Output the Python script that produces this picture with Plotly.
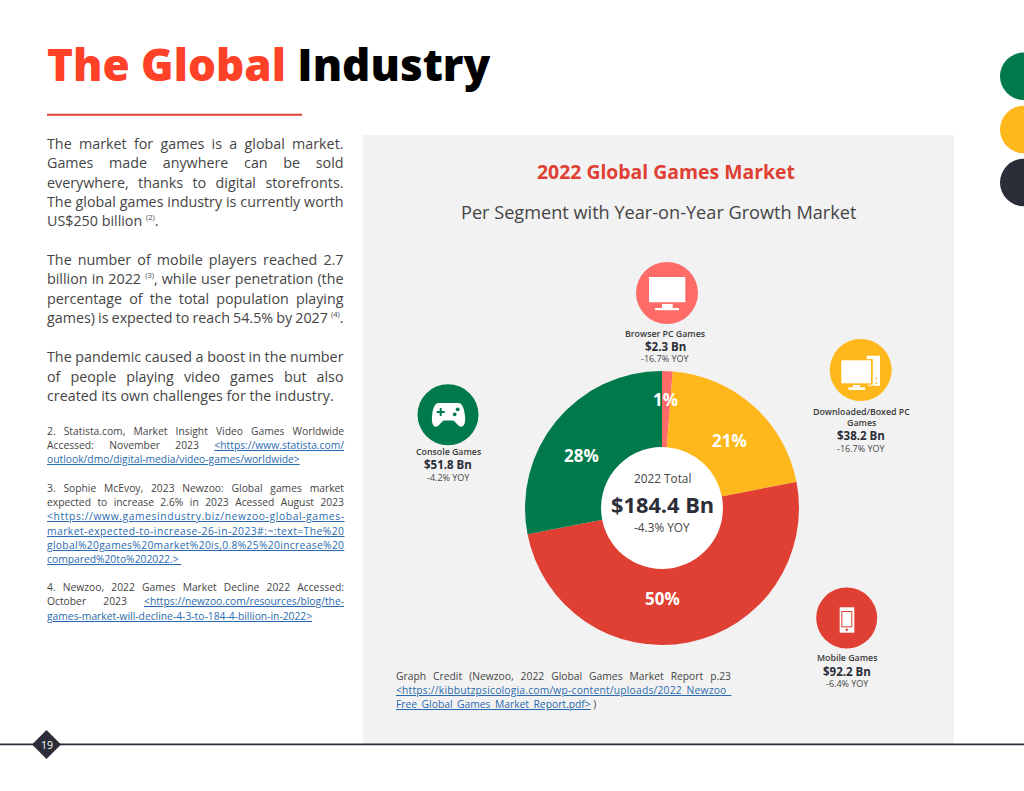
import json
import re
import plotly.graph_objects as go

# ---------- data ----------
segments = ["Browser PC Games", "Downloaded/Boxed PC Games", "Mobile Games", "Console Games"]
values = [2.3, 38.2, 92.2, 51.8]
revenue_labels = ["$2.3 Bn", "$38.2 Bn", "$92.2 Bn", "$51.8 Bn"]
yoy_labels = ["-16.7% YOY", "-16.7% YOY", "-6.4% YOY", "-4.2% YOY"]
total_labels = ["2022 Total", "$184.4 Bn", "-4.3% YOY"]

chart_title = "2022 Global Games Market"
chart_subtitle = "Per Segment with Year-on-Year Growth Market"


def note(n):
    return f'<sup><span style="font-size:7.5px">({n})</span></sup>'


body_lines = [
    ("The market for games is a global market.", 144, True),
    ("Games made anywhere can be sold", 163, True),
    ("everywhere, thanks to digital storefronts.", 183, True),
    ("The global games industry is currently worth", 202, True),
    (f"US$250 billion {note(2)}.", 221, False),
    ("The number of mobile players reached 2.7", 260, True),
    (f"billion in 2022 {note(3)}, while user penetration (the", 279, True),
    ("percentage of the total population playing", 299, True),
    (f"games) is expected to reach 54.5% by 2027 {note(4)}.", 318, True),
    ("The pandemic caused a boost in the number", 357, True),
    ("of people playing video games but also", 377, True),
    ("created its own challenges for the industry.", 396, False),
]

L0, L1 = '<span style="color:#2a6ab0;text-decoration:underline">', "</span>"
ref_lines = [
    ("2. Statista.com, Market Insight Video Games Worldwide", 431, True),
    (f"Accessed: November 2023 {L0}&lt;https://www.statista.com/{L1}", 445, True),
    (f"{L0}outlook/dmo/digital-media/video-games/worldwide&gt;{L1}", 459, False),
    ("3. Sophie McEvoy, 2023 Newzoo: Global games market", 488, True),
    ("expected to increase 2.6% in 2023 Acessed August 2023", 502, True),
    (f"{L0}&lt;https://www.gamesindustry.biz/newzoo-global-games-{L1}", 516, True),
    (f"{L0}market-expected-to-increase-26-in-2023#:~:text=The%20{L1}", 531, True),
    (f"{L0}global%20games%20market%20is,0.8%25%20increase%20{L1}", 545, True),
    (f"{L0}compared%20to%202022.&gt; {L1}", 559, False),
    ("4. Newzoo, 2022 Games Market Decline 2022 Accessed:", 587, True),
    (f"October 2023 {L0}&lt;https://newzoo.com/resources/blog/the-{L1}", 601, True),
    (f"{L0}games-market-will-decline-4-3-to-184-4-billion-in-2022&gt;{L1}", 616, False),
]
credit_lines = [
    ("Graph Credit (Newzoo, 2022 Global Games Market Report p.23", 676, True),
    (f"{L0}&lt;https://kibbutzpsicologia.com/wp-content/uploads/2022_Newzoo_{L1}", 690, True),
    (f"{L0}Free_Global_Games_Market_Report.pdf&gt;{L1} )", 704, False),
]

# ---------- styles ----------
RED, GREEN, YELLOW, PINK, DARK = "#e03f33", "#007a4b", "#ffb81c", "#ff6b66", "#2b2e38"
TITLE_RED, PANEL, TEXT = "#ff4128", "#f2f2f2", "#454545"
FONT = "Open Sans"
W, H = 1024, 791


def X(x):
    return x / W


def Y(y):
    return 1 - y / H


def path(d, fill="#ffffff"):
    toks = re.findall(r"-?\d+\.?\d*|[A-Za-z]", d)
    res, i = "", 0
    while i < len(toks):
        t = toks[i]
        if t.isalpha():
            res += t
            i += 1
        else:
            res += f"{X(float(t)):.6f},{Y(float(toks[i + 1])):.6f} "
            i += 2
    return dict(type="path", path=res, xref="paper", yref="paper", fillcolor=fill, line_width=0, layer="above")


def rect(x0, y0, x1, y1, fill, layer="above"):
    return dict(type="rect", xref="paper", yref="paper", x0=X(x0), x1=X(x1), y0=Y(y0), y1=Y(y1),
                fillcolor=fill, line_width=0, layer=layer)


def circle(cx, cy, r, fill, layer="above"):
    return dict(type="circle", xref="paper", yref="paper", x0=X(cx - r), x1=X(cx + r), y0=Y(cy + r), y1=Y(cy - r),
                fillcolor=fill, line_width=0, layer=layer)


shapes = [
    rect(363, 135, 954, 744, PANEL, "below"),
    circle(662, 508, 61, "#ffffff", "below"),
    rect(47, 113.8, 302, 115.8, RED),
    circle(1023.7, 76.3, 23.7, GREEN),
    circle(1023.7, 129.5, 23.7, YELLOW),
    circle(1023.7, 182.5, 23.7, DARK),
    rect(0, 743.6, 1024, 745.2, DARK),
    path("M46.5,730 L61,744.5 L46.5,759 L32,744.5 Z", DARK),
    # browser icon
    circle(667, 293, 31, PINK),
    rect(649, 277, 685.3, 302.3, "#ffffff"),
    rect(662, 304, 672.7, 308, "#ffffff"),
    rect(655, 308, 679, 310.2, "#ffffff"),
    # downloaded icon
    circle(860.7, 370, 31, YELLOW),
    path("M866.7,355.7 L880,355.7 L880,385.7 L868,385.7 L868,384.8 L872.8,384.8 L872.8,359 L866.7,359 Z"),
    circle(876.3, 378.3, 0.9, YELLOW),
    circle(876.3, 383, 0.9, YELLOW),
    rect(841.3, 360.3, 871, 383.3, "#ffffff"),
    rect(853, 385, 860, 387.3, "#ffffff"),
    rect(848.5, 387.3, 865, 390, "#ffffff"),
    # console icon
    circle(448, 414.7, 30.5, GREEN),
    path("M439,403 L458,403 C462,403 464,407 465,416 C465.8,423 464,426.7 461,426.7 "
         "C458,426.7 456,421.5 453,420.5 L444,420.5 C441,421.5 439,426.7 436,426.7 "
         "C433,426.7 431.5,423 432,416 C433,407 435,403 439,403 Z"),
    rect(436.7, 411, 444.7, 413, GREEN),
    rect(439.7, 408, 441.7, 416, GREEN),
    circle(457.7, 409.3, 1.9, GREEN),
    circle(454.7, 414.3, 1.9, GREEN),
    # mobile icon
    circle(846.7, 618, 30.5, RED),
    rect(839.7, 607.3, 854.3, 632.7, "#ffffff"),
    rect(841.3, 611, 852.3, 627.3, RED),
    rect(842.3, 612, 851.3, 626.3, "#ffffff"),
    circle(846.7, 629.7, 1.2, RED),
]

annotations = []
justify = {}


def text(x, y, s, size, color=TEXT, anchor="center", weight=None, just_width=None):
    font = dict(family=FONT, size=size, color=color)
    if weight:
        font["weight"] = weight
    if just_width:
        justify[len(annotations)] = just_width
    annotations.append(dict(x=X(x), y=Y(y), xref="paper", yref="paper", text=s, showarrow=False,
                            xanchor=anchor, yanchor="middle", align="left" if anchor == "left" else "center",
                            borderpad=0, borderwidth=0, font=font))


text(47, 64, f'<span style="color:{TITLE_RED}">The Global</span> <span style="color:#000000">Industry</span>',
     44, anchor="left", weight=800)

for s, y, j in body_lines:
    text(47, y - 0.7, s, 14.3, anchor="left", just_width=296.5 if j else None)
for s, y, j in ref_lines:
    text(47, y, s, 10.3, anchor="left", just_width=297 if j else None)
for s, y, j in credit_lines:
    text(396, y, s, 10.3, anchor="left", just_width=335 if j else None)

text(666, 172, f"<b>{chart_title}</b>", 19.4, RED)
text(658.5, 212.5, chart_subtitle, 18.15)

text(662, 478, total_labels[0], 11.8)
text(662, 504.5, f"<b>{total_labels[1]}</b>", 21.8, DARK)
text(662, 527, total_labels[2], 11.8)

label_pos = {
    0: (665, [334], 346.5, 358),
    1: (861, [412, 423], 436, 448),
    2: (847, [658], 671, 683),
    3: (448, [452], 465, 477),
}
name_lines = {0: [segments[0]], 1: ["Downloaded/Boxed PC", "Games"], 2: [segments[2]], 3: [segments[3]]}
for i, (cx, ys, yv, yy) in label_pos.items():
    for nm, yn in zip(name_lines[i], ys):
        text(cx, yn, nm, 8.8, "#3a3a3a", weight=600)
    text(cx, yv, f"<b>{revenue_labels[i]}</b>", 11.5, DARK)
    text(cx, yy, yoy_labels[i], 9)

text(46.5, 744.5, "19", 10.5, "#ffffff")

# percent labels read from the values
total = sum(values)
pct_pos = [(665, 400), (729, 440), (662, 598), (581, 455)]
for v, (px_, py_) in zip(values, pct_pos):
    text(px_, py_, f"<b>{v / total:.0%}</b>", 17, "#ffffff")

fig = go.Figure(
    go.Pie(
        labels=segments,
        values=values,
        hole=0.445,
        sort=False,
        direction="clockwise",
        rotation=0,
        marker=dict(colors=[PINK, YELLOW, RED, GREEN], line=dict(width=0)),
        textinfo="none",
        domain=dict(x=[X(662 - 137), X(662 + 137)], y=[Y(508 + 137), Y(508 - 137)]),
        showlegend=False,
        hoverinfo="skip",
    )
)
fig.update_layout(
    width=W,
    height=H,
    margin=dict(l=0, r=0, t=0, b=0),
    paper_bgcolor="#ffffff",
    plot_bgcolor="#ffffff",
    showlegend=False,
    shapes=shapes,
    annotations=annotations,
)

post = """
document.body.style.margin='0';
var J = %s;
document.querySelectorAll('g.annotation').forEach(function(g){
  var w = J[g.getAttribute('data-index')];
  if(!w) return;
  var t = g.querySelector('text.annotation-text');
  var len = t.getComputedTextLength();
  var n = (t.textContent.match(/ /g)||[]).length;
  if(n>0){ t.style.wordSpacing = ((w-len)/n)+'px'; }
  else { t.style.letterSpacing = ((w-len)/(t.textContent.length-1))+'px'; }
});
""" % json.dumps(justify)

fig.write_html("out.html", post_script=post, config={"displayModeBar": False})
